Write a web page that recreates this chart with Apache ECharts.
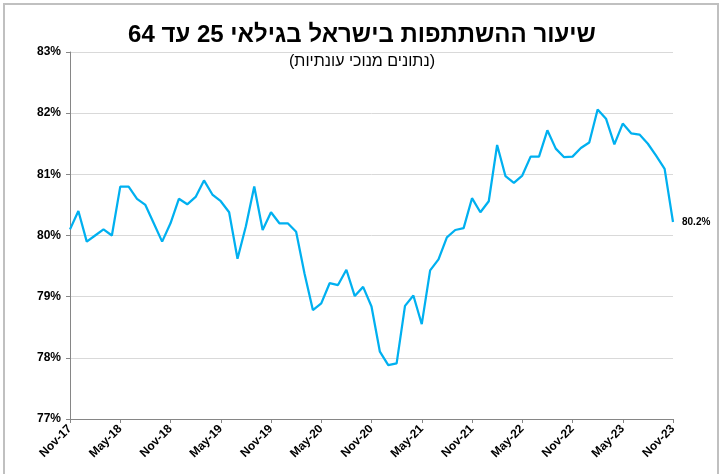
<!DOCTYPE html>
<html>
<head>
<meta charset="utf-8">
<script src="https://cdn.jsdelivr.net/npm/echarts@6/dist/echarts.min.js"></script>
<style>
  html, body { margin: 0; padding: 0; background: #fff; }
  #chart { width: 724px; height: 474px; }
</style>
</head>
<body>
<div id="chart"></div>
<script>
// monthly categories, Nov-17 .. Nov-23
var months = [
  'Nov-17', 'Dec-17',
  'Jan-18', 'Feb-18', 'Mar-18', 'Apr-18', 'May-18', 'Jun-18', 'Jul-18', 'Aug-18', 'Sep-18', 'Oct-18', 'Nov-18', 'Dec-18',
  'Jan-19', 'Feb-19', 'Mar-19', 'Apr-19', 'May-19', 'Jun-19', 'Jul-19', 'Aug-19', 'Sep-19', 'Oct-19', 'Nov-19', 'Dec-19',
  'Jan-20', 'Feb-20', 'Mar-20', 'Apr-20', 'May-20', 'Jun-20', 'Jul-20', 'Aug-20', 'Sep-20', 'Oct-20', 'Nov-20', 'Dec-20',
  'Jan-21', 'Feb-21', 'Mar-21', 'Apr-21', 'May-21', 'Jun-21', 'Jul-21', 'Aug-21', 'Sep-21', 'Oct-21', 'Nov-21', 'Dec-21',
  'Jan-22', 'Feb-22', 'Mar-22', 'Apr-22', 'May-22', 'Jun-22', 'Jul-22', 'Aug-22', 'Sep-22', 'Oct-22', 'Nov-22', 'Dec-22',
  'Jan-23', 'Feb-23', 'Mar-23', 'Apr-23', 'May-23', 'Jun-23', 'Jul-23', 'Aug-23', 'Sep-23', 'Oct-23', 'Nov-23'
];

// participation rate, ages 25-64, seasonally adjusted (%)
var rate = [
  80.10, 80.40,
  79.90, 80.00, 80.10, 80.00, 80.80, 80.80, 80.60, 80.50, 80.20, 79.90, 80.20, 80.60,
  80.51, 80.63, 80.90, 80.67, 80.56, 80.38, 79.62, 80.15, 80.80, 80.09, 80.38, 80.20,
  80.20, 80.06, 79.38, 78.78, 78.89, 79.22, 79.19, 79.44, 79.01, 79.16, 78.84, 78.10,
  77.88, 77.91, 78.85, 79.02, 78.55, 79.43, 79.61, 79.97, 80.09, 80.12, 80.61, 80.38,
  80.56, 81.48, 80.97, 80.86, 80.98, 81.29, 81.29, 81.72, 81.42, 81.28, 81.29, 81.43,
  81.52, 82.06, 81.91, 81.49, 81.83, 81.67, 81.65, 81.50, 81.30, 81.09, 80.22
];

var yMin = 77, yMax = 83, yStep = 1;
var lastLabel = '80.2%';

var titleText = 'שיעור ההשתתפות בישראל בגילאי 25 עד 64';
var subText = '(נתונים מנוכי עונתיות)';

var font = "'Liberation Sans', Arial, 'DejaVu Sans', sans-serif";

var chart = echarts.init(document.getElementById('chart'), null, { renderer: 'canvas' });

var option = {
  backgroundColor: '#fff',
  animation: false,
  title: [{
    text: titleText,
    left: 'center',
    top: 18,
    textStyle: { fontFamily: font, fontSize: 24, fontWeight: 'bold', color: '#000' }
  }, {
    text: subText,
    left: 'center',
    top: 49,
    textStyle: { fontFamily: font, fontSize: 16, fontWeight: 'normal', color: '#000' }
  }],
  graphic: [{
    type: 'rect',
    shape: { x: 4, y: 4, width: 714, height: 480 },
    style: { fill: 'none', stroke: '#c0c0c0', lineWidth: 2 },
    silent: true
  }],
  grid: {
    left: 70,
    right: 51,
    top: 52,
    bottom: 55
  },
  xAxis: {
    type: 'category',
    data: months,
    boundaryGap: false,
    axisLine: { lineStyle: { color: '#868686', width: 1 } },
    axisTick: { show: true, interval: 5, length: 4, lineStyle: { color: '#868686' } },
    axisLabel: {
      interval: 5,
      rotate: 45,
      margin: 8,
      fontFamily: font,
      fontSize: 12,
      fontWeight: 'bold',
      color: '#000'
    },
    splitLine: { show: false }
  },
  yAxis: {
    type: 'value',
    min: yMin,
    max: yMax,
    interval: yStep,
    axisLine: { show: true, lineStyle: { color: '#868686', width: 1 } },
    axisTick: { show: true, length: 4, lineStyle: { color: '#868686' } },
    axisLabel: {
      formatter: '{value}%',
      margin: 9,
      fontFamily: font,
      fontSize: 12,
      fontWeight: 'bold',
      color: '#000'
    },
    splitLine: { show: true, lineStyle: { color: '#d9d9d9', width: 1 } }
  },
  series: [{
    name: 'rate',
    type: 'line',
    data: rate,
    smooth: false,
    showSymbol: false,
    lineStyle: { color: '#00b0f0', width: 2.25 },
    itemStyle: { color: '#00b0f0' },
    endLabel: {
      show: true,
      formatter: function () { return lastLabel; },
      distance: 9,
      fontFamily: font,
      fontSize: 10,
      fontWeight: 'bold',
      color: '#000'
    }
  }]
};

chart.setOption(option);
</script>
</body>
</html>
